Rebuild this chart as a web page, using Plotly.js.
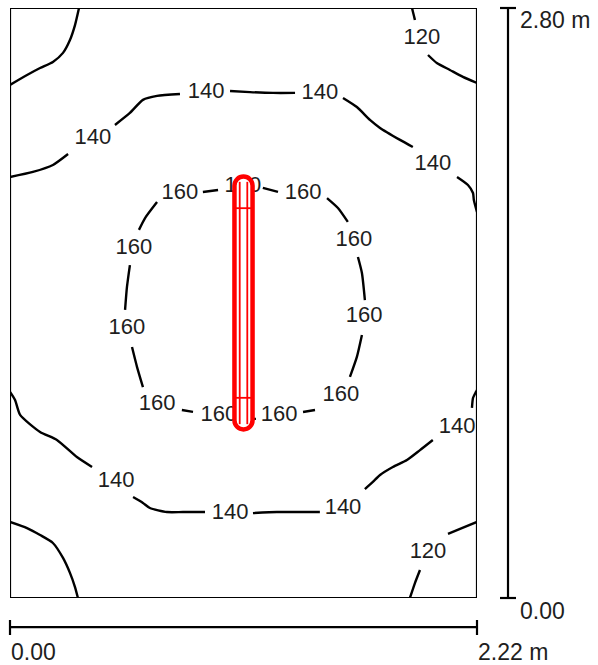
<!DOCTYPE html>
<html>
<head>
<meta charset="utf-8">
<script src="https://cdn.plot.ly/plotly-3.0.1.min.js"></script>
<style>html,body{margin:0;padding:0;background:#fff;}#chart{width:598px;height:665px;}</style>
</head>
<body>
<div id="chart"></div>
<script>
// Room size (m)
const roomW = 2.22;
const roomH = 2.80;

// Isolines (m), segments separated by null where labels break them
const c120X = [0.328,0.309,0.285,0.252,0.204,0.143,0.081,0, null, 1.911,1.925, null, 1.987,2.029,2.091,2.153,2.22, null, 0,0.081,0.143,0.204,0.252,0.285,0.309,0.323, null, 2.22,2.148,2.082, null, 1.949,1.925,1.901];
const c120Y = [2.80,2.719,2.648,2.587,2.544,2.515,2.482,2.435, null, 2.80,2.743, null, 2.577,2.539,2.506,2.473,2.444, null, 0.361,0.332,0.299,0.261,0.190,0.119,0.052,0, null, 0.361,0.332,0.304, null, 0.133,0.071,0];

const c140X = [0,0.109,0.204,0.276, null, 0.499,0.570,0.632,0.699,0.808, null, 1.046,1.141,1.250,1.355, null, 1.583,1.649,1.711,1.759,1.854,1.915, null, 2.125,2.177,2.201,2.205,2.22, null, 0,0.024,0.048,0.143,0.223,0.318,0.390, null, 0.585,0.632,0.665,0.746,0.822,0.927, null, 1.155,1.269,1.378,1.473, null, 1.687,1.725,1.759,1.820,1.887,1.949,2.010, null, 2.196,2.201,2.215,2.22];
const c140Y = [1.998,2.022,2.055,2.107, null, 2.245,2.302,2.364,2.383,2.392, null, 2.406,2.401,2.397,2.397, null, 2.373,2.330,2.269,2.231,2.174,2.140, null, 1.998,1.960,1.922,1.889,1.832, null, 0.978,0.940,0.869,0.788,0.750,0.669,0.622, null, 0.479,0.451,0.427,0.408,0.408,0.408, null, 0.403,0.408,0.408,0.408, null, 0.517,0.551,0.584,0.622,0.655,0.702,0.750, null, 0.902,0.949,0.978,0.987];

const c160X = [0.917,0.989, null, 1.202,1.274, null, 1.507,1.559,1.606, null, 1.654,1.673,1.687, null, 1.673,1.649,1.616, null, 1.450,1.393, null, 1.079,1.169, null, 0.870,0.817, null, 0.632,0.604,0.580, null, 0.547,0.556,0.570, null, 0.613,0.642,0.699];
const c160Y = [1.927,1.936, null, 1.946,1.927, null, 1.898,1.851,1.785, null, 1.618,1.542,1.414, null, 1.248,1.144,1.049, null, 0.892,0.883, null, 0.850,0.850, null, 0.883,0.892, null, 1.001,1.096,1.191, null, 1.367,1.476,1.580, null, 1.747,1.803,1.879];

// Isoline labels
const lblX = [1.958, 1.987, 0.394, 0.932, 1.473, 2.010, 0.504, 1.046, 1.583, 2.125, 0.808, 1.107, 1.393, 1.635, 1.683, 1.573, 1.279, 0.993, 0.699, 0.556, 0.589];
const lblY = [2.653, 0.214, 2.183, 2.397, 2.392, 2.055, 0.551, 0.403, 0.427, 0.807, 1.922, 1.955, 1.922, 1.699, 1.334, 0.963, 0.864, 0.864, 0.916, 1.277, 1.661];
const lblText = ['120','120','140','140','140','140','140','140','140','140','160','160','160','160','160','160','160','160','160','160','160'];

// Luminaire (m)
const lumCX = 1.11;
const lumY0 = 0.80;
const lumY1 = 2.00;
const lumHalfW = 0.043;
const lumInnerHalfW = 0.018;
const lumCrossOffset = 0.15;

// Scale labels
const scaleXLabels = ['0.00', '2.22 m'];
const scaleYLabels = ['0.00', '2.80 m'];

const FONT = 'Liberation Sans, Arial, sans-serif';
const lineStyle = {color: '#000', width: 2.4, shape: 'spline', smoothing: 0.6};

const traces = [
  {x: c120X, y: c120Y, mode: 'lines', line: lineStyle, hoverinfo: 'skip'},
  {x: c140X, y: c140Y, mode: 'lines', line: lineStyle, hoverinfo: 'skip'},
  {x: c160X, y: c160Y, mode: 'lines', line: lineStyle, hoverinfo: 'skip'},
  {x: lblX, y: lblY, text: lblText, mode: 'text', textposition: 'middle center',
   textfont: {family: FONT, size: 22, color: '#1e1e1e'}, hoverinfo: 'skip'}
];

function stadium(cx, y0, y1, r) {
  const k = 0.552 * r;
  const xl = cx - r, xr = cx + r;
  return 'M' + xl + ',' + (y1 - r) +
    ' C' + xl + ',' + (y1 - r + k) + ' ' + (cx - k) + ',' + y1 + ' ' + cx + ',' + y1 +
    ' C' + (cx + k) + ',' + y1 + ' ' + xr + ',' + (y1 - r + k) + ' ' + xr + ',' + (y1 - r) +
    ' L' + xr + ',' + (y0 + r) +
    ' C' + xr + ',' + (y0 + r - k) + ' ' + (cx + k) + ',' + y0 + ' ' + cx + ',' + y0 +
    ' C' + (cx - k) + ',' + y0 + ' ' + xl + ',' + (y0 + r - k) + ' ' + xl + ',' + (y0 + r) + ' Z';
}

const red = '#ff0000';
const shapes = [
  // room border
  {type: 'rect', xref: 'x', yref: 'y', x0: 0, x1: roomW, y0: 0, y1: roomH, line: {color: '#000', width: 2.2}, layer: 'above'},
  // luminaire
  {type: 'path', xref: 'x', yref: 'y', path: stadium(lumCX, lumY0, lumY1, lumHalfW), fillcolor: '#fff', line: {color: red, width: 4.5}, layer: 'above'},
  {type: 'line', xref: 'x', yref: 'y', x0: lumCX - lumInnerHalfW, x1: lumCX - lumInnerHalfW, y0: lumY0 + 0.025, y1: lumY1 - 0.025, line: {color: red, width: 1.8}, layer: 'above'},
  {type: 'line', xref: 'x', yref: 'y', x0: lumCX + lumInnerHalfW, x1: lumCX + lumInnerHalfW, y0: lumY0 + 0.025, y1: lumY1 - 0.025, line: {color: red, width: 1.8}, layer: 'above'},
  {type: 'line', xref: 'x', yref: 'y', x0: lumCX - lumHalfW, x1: lumCX + lumHalfW, y0: lumY1 - lumCrossOffset, y1: lumY1 - lumCrossOffset, line: {color: red, width: 1.8}, layer: 'above'},
  {type: 'line', xref: 'x', yref: 'y', x0: lumCX - lumHalfW, x1: lumCX + lumHalfW, y0: lumY0 + lumCrossOffset, y1: lumY0 + lumCrossOffset, line: {color: red, width: 1.8}, layer: 'above'},
  // vertical scale bar
  {type: 'line', xref: 'paper', yref: 'paper', x0: 1.0664, x1: 1.0664, y0: 0, y1: 1, line: {color: '#000', width: 2.2}},
  {type: 'line', xref: 'paper', yref: 'paper', x0: 1.0493, x1: 1.0835, y0: 1, y1: 1, line: {color: '#000', width: 2.2}},
  {type: 'line', xref: 'paper', yref: 'paper', x0: 1.0493, x1: 1.0835, y0: 0, y1: 0, line: {color: '#000', width: 2.2}},
  // horizontal scale bar
  {type: 'line', xref: 'paper', yref: 'paper', x0: 0, x1: 1, y0: -0.0492, y1: -0.0492, line: {color: '#000', width: 2.2}},
  {type: 'line', xref: 'paper', yref: 'paper', x0: 0, x1: 0, y0: -0.0373, y1: -0.0627, line: {color: '#000', width: 2.2}},
  {type: 'line', xref: 'paper', yref: 'paper', x0: 1, x1: 1, y0: -0.0373, y1: -0.0627, line: {color: '#000', width: 2.2}}
];

const annFont = {family: FONT, size: 23, color: '#1e1e1e'};
const annotations = [
  {xref: 'paper', yref: 'paper', x: 1.0900, y: 0.9797, text: scaleYLabels[1], showarrow: false, xanchor: 'left', yanchor: 'middle', font: annFont, borderpad: 0},
  {xref: 'paper', yref: 'paper', x: 1.0900, y: -0.0220, text: scaleYLabels[0], showarrow: false, xanchor: 'left', yanchor: 'middle', font: annFont, borderpad: 0},
  {xref: 'paper', yref: 'paper', x: 0.0000, y: -0.0915, text: scaleXLabels[0], showarrow: false, xanchor: 'left', yanchor: 'middle', font: annFont, borderpad: 0},
  {xref: 'paper', yref: 'paper', x: 1.0000, y: -0.0915, text: scaleXLabels[1], showarrow: false, xanchor: 'left', yanchor: 'middle', font: annFont, borderpad: 0}
];

const layout = {
  width: 598, height: 665,
  margin: {l: 10, r: 121, t: 8, b: 67, pad: 0},
  paper_bgcolor: '#fff', plot_bgcolor: '#fff',
  showlegend: false,
  xaxis: {range: [0, roomW], visible: false, fixedrange: true},
  yaxis: {range: [0, roomH], visible: false, fixedrange: true},
  shapes: shapes,
  annotations: annotations
};

Plotly.newPlot('chart', traces, layout, {displayModeBar: false, staticPlot: true});
</script>
</body>
</html>
